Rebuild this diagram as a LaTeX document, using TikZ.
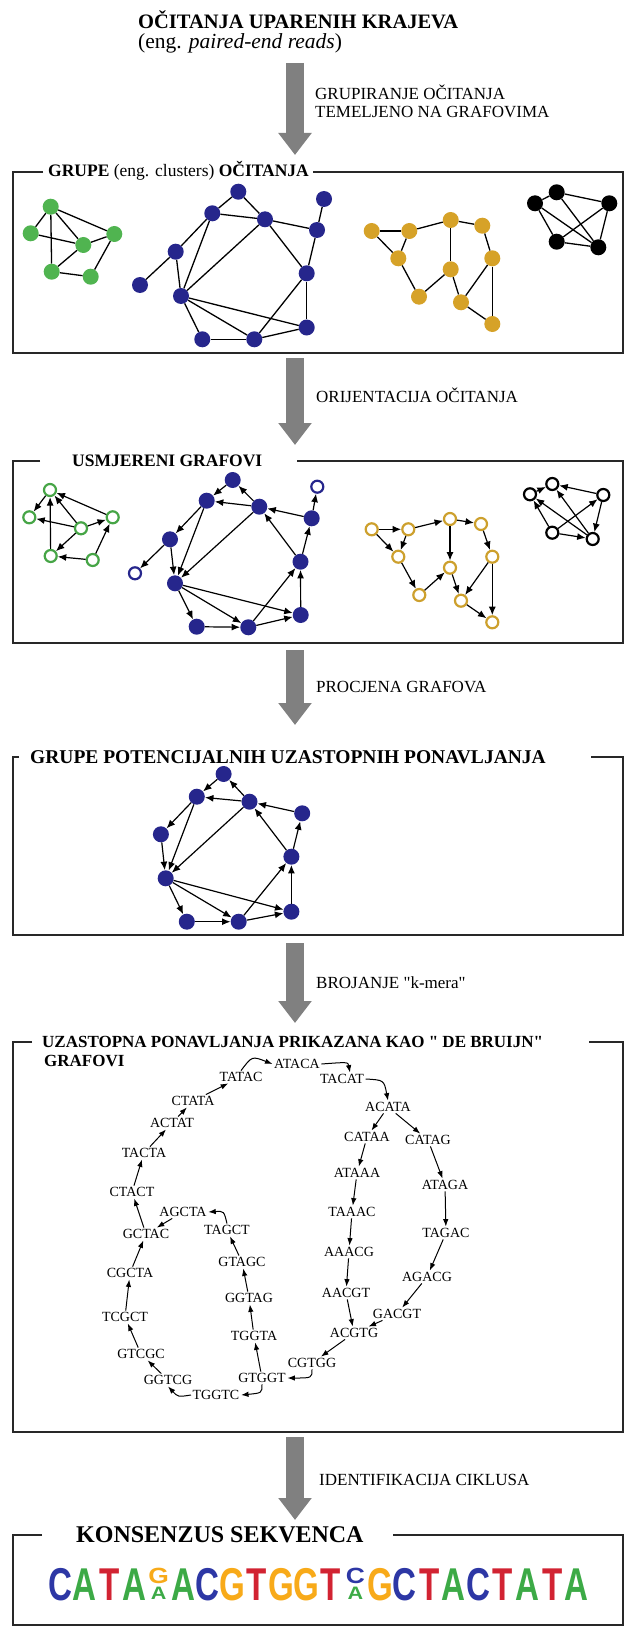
\documentclass[tikz,border=0pt]{standalone}
\usepackage{fontspec}
\setmainfont{Liberation Serif}[Ligatures=TeXOff]
\newfontfamily\logofont{Liberation Sans}[FakeStretch=0.72]
\newfontfamily\logosmall{Liberation Sans}[FakeStretch=1.2]
\usetikzlibrary{arrows.meta}
\definecolor{nodegreen}{RGB}{80,180,80}
\definecolor{ringgreen}{RGB}{70,165,70}
\definecolor{nodeblue}{RGB}{38,38,140}
\definecolor{nodegold}{RGB}{214,162,40}
\definecolor{ringgold}{RGB}{205,160,45}
\definecolor{arrowgray}{RGB}{128,128,128}
\definecolor{framegray}{RGB}{40,40,40}
\definecolor{lA}{RGB}{60,170,70}
\definecolor{lC}{RGB}{45,55,165}
\definecolor{lG}{RGB}{248,170,25}
\definecolor{lT}{RGB}{210,35,50}
\newcommand\stackcol[3]{{\logosmall\bfseries\vbox{\offinterlineskip
  \hbox to 22pt{\hss\fontsize{22}{22}\selectfont\textcolor{#1}{#2}\hss}\vskip 4pt
  \hbox to 22pt{\hss\fontsize{18}{18}\selectfont\textcolor{lA}{#3}\hss}}}}
\begin{document}
\begin{tikzpicture}[x=1pt,y=-1pt,
  fG/.style={circle,fill=nodegreen,minimum size=16pt,inner sep=0pt},
  fB/.style={circle,fill=nodeblue,minimum size=16pt,inner sep=0pt},
  fO/.style={circle,fill=nodegold,minimum size=16pt,inner sep=0pt},
  fK/.style={circle,fill=black,minimum size=16pt,inner sep=0pt},
  hG/.style={circle,draw=ringgreen,line width=2.2pt,fill=white,minimum size=12pt,inner sep=0pt},
  hB/.style={circle,draw=nodeblue,line width=2.2pt,fill=white,minimum size=12pt,inner sep=0pt},
  hO/.style={circle,draw=ringgold,line width=2.2pt,fill=white,minimum size=12pt,inner sep=0pt},
  hK/.style={circle,draw=black,line width=2.2pt,fill=white,minimum size=12pt,inner sep=0pt},
  ue/.style={line width=1.3pt},
  de/.style={line width=1.2pt,-{Latex[length=8.5pt,width=7pt]}},
  dbn/.style={font=\fontsize{14}{14}\selectfont,inner sep=1.5pt},
  dba/.style={line width=1pt,-{Latex[length=7.5pt,width=5.5pt]}},
  boxframe/.style={line width=1.6pt,draw=framegray},
  bigarrow/.style={line width=18pt,draw=arrowgray,-{Triangle[length=22pt,width=32pt]}},
  ttl/.style={anchor=base west,inner sep=0pt},
  lbl/.style={anchor=base west,inner sep=0pt,font=\fontsize{17}{18}\selectfont},
  bigletter/.style={anchor=base,inner sep=0pt,font=\logofont\bfseries\fontsize{46}{46}\selectfont},
  stackletter/.style={anchor=south,inner sep=0pt}
]
\fill[white] (0,0) rectangle (626,1629);
\useasboundingbox (0,0) rectangle (626,1629);

% ---------- top ----------
\node[ttl,font=\bfseries\fontsize{20.5}{24}\selectfont] (title) at (138,29) {OČITANJA UPARENIH KRAJEVA};
\node[ttl,font=\fontsize{21.5}{22}\selectfont] (subtitle) at (138,49) {(eng. \textit{paired-end reads})};

% ---------- big arrows ----------
\coordinate (a1s) at (295,63);   \coordinate (a1e) at (295,155);
\coordinate (a2s) at (295,358);  \coordinate (a2e) at (295,445);
\coordinate (a3s) at (295,650);  \coordinate (a3e) at (295,725);
\coordinate (a4s) at (295,943);  \coordinate (a4e) at (295,1023);
\coordinate (a5s) at (295,1437); \coordinate (a5e) at (295,1520);
\draw[bigarrow] (a1s) -- (a1e);
\draw[bigarrow] (a2s) -- (a2e);
\draw[bigarrow] (a3s) -- (a3e);
\draw[bigarrow] (a4s) -- (a4e);
\draw[bigarrow] (a5s) -- (a5e);

\node[lbl] (l1a) at (315,100) {GRUPIRANJE OČITANJA};
\node[lbl] (l1b) at (315,118) {TEMELJENO NA GRAFOVIMA};
\node[lbl] (l2) at (316,402) {ORIJENTACIJA OČITANJA};
\node[lbl] (l3) at (316,692) {PROCJENA GRAFOVA};
\node[lbl] (l4) at (316,988) {BROJANJE "k-mera"};
\node[lbl] (l5) at (319,1485) {IDENTIFIKACIJA CIKLUSA};

% ---------- box 1 ----------
\draw[boxframe] (43,172) -- (13,172) -- (13,353) -- (623,353) -- (623,172) -- (313,172);
\node[ttl,font=\fontsize{17.5}{18}\selectfont] (t1) at (48,177) {\textbf{GRUPE} (eng. clusters) \textbf{OČITANJA}};

\node[fG] (G1) at (50.7,206.7) {};
\node[fG] (G2) at (30.7,233.3) {};
\node[fG] (G3) at (83.3,245) {};
\node[fG] (G4) at (114.3,234) {};
\node[fG] (G5) at (51.7,271.7) {};
\node[fG] (G6) at (90.7,276.7) {};
\foreach \a/\b in {G1/G2,G1/G5,G1/G3,G1/G4,G2/G3,G3/G4,G3/G5,G5/G6,G6/G4}
  \draw[ue] (\a) -- (\b);

\node[fB] (B1) at (238.3,191.7) {};
\node[fB] (B2) at (212.3,213.3) {};
\node[fB] (B3) at (265,219.3) {};
\node[fB] (B4) at (317,230) {};
\node[fB] (B5) at (324,199) {};
\node[fB] (B6) at (175.7,251.7) {};
\node[fB] (B7) at (140,285) {};
\node[fB] (B8) at (181,296) {};
\node[fB] (B9) at (306.7,273.3) {};
\node[fB] (B10) at (202.3,339.3) {};
\node[fB] (B11) at (254.3,339.3) {};
\node[fB] (B12) at (306.7,327.5) {};
\foreach \a/\b in {B1/B2,B1/B3,B2/B3,B3/B4,B4/B5,B2/B6,B2/B8,B3/B8,B6/B7,B6/B8,B8/B10,B8/B11,B8/B12,B10/B11,B11/B9,B11/B12,B12/B9,B9/B3,B9/B4}
  \draw[ue] (\a) -- (\b);

\node[fO] (O1) at (371.7,231) {};
\node[fO] (O2) at (409.3,231) {};
\node[fO] (O3) at (398.3,258.3) {};
\node[fO] (O4) at (450.7,220) {};
\node[fO] (O5) at (482.3,225.7) {};
\node[fO] (O6) at (450.7,269.3) {};
\node[fO] (O7) at (419,296.7) {};
\node[fO] (O8) at (492.3,258.3) {};
\node[fO] (O9) at (461,302.3) {};
\node[fO] (O10) at (492.3,324) {};
\foreach \a/\b in {O1/O2,O1/O3,O2/O3,O2/O4,O4/O5,O4/O6,O5/O8,O3/O7,O7/O6,O6/O9,O9/O8,O8/O10,O9/O10}
  \draw[ue] (\a) -- (\b);

\node[fK] (K1) at (556.7,192.3) {};
\node[fK] (K2) at (535,203.3) {};
\node[fK] (K3) at (609.3,203.3) {};
\node[fK] (K4) at (556.7,241.7) {};
\node[fK] (K5) at (598.3,247.3) {};
\foreach \a/\b in {K1/K2,K1/K3,K1/K5,K2/K4,K2/K5,K3/K4,K3/K5,K4/K5}
  \draw[ue] (\a) -- (\b);

% ---------- box 2 ----------
\draw[boxframe] (40,461) -- (13,461) -- (13,643) -- (623,643) -- (623,461) -- (297,461);
\node[ttl,font=\bfseries\fontsize{17.5}{18}\selectfont] (t2) at (72,466) {USMJERENI GRAFOVI};

\node[hG] (g1) at (50,490) {};
\node[hG] (g2) at (29.3,517.3) {};
\node[hG] (g3) at (81,528.3) {};
\node[hG] (g4) at (112.7,517.3) {};
\node[hG] (g5) at (50.7,556) {};
\node[hG] (g6) at (92.7,560) {};
\foreach \a/\b in {g1/g2,g5/g1,g3/g1,g4/g1,g3/g2,g3/g5,g3/g4,g6/g5,g6/g4}
  \draw[de] (\a) -- (\b);

\node[fB] (b1) at (232.7,480) {};
\node[fB] (b2) at (206.7,500.7) {};
\node[fB] (b3) at (259.3,506.7) {};
\node[fB] (b4) at (311.7,518.3) {};
\node[hB] (b5) at (317.3,486.7) {};
\node[fB] (b6) at (170,539.3) {};
\node[hB] (b7) at (135,573.3) {};
\node[fB] (b8) at (175,583.3) {};
\node[fB] (b9) at (300.5,561.7) {};
\node[fB] (b10) at (196.7,626.7) {};
\node[fB] (b11) at (248.3,627.3) {};
\node[fB] (b12) at (300.7,615) {};
\foreach \a/\b in {b1/b2,b3/b1,b3/b2,b4/b3,b2/b6,b2/b8,b3/b8,b6/b8,b6/b7,b8/b10,b8/b11,b8/b12,b10/b11,b11/b9,b11/b12,b12/b9,b9/b3,b9/b4,b4/b5}
  \draw[de] (\a) -- (\b);

\node[hO] (o1) at (371.7,529.3) {};
\node[hO] (o2) at (408.3,529.3) {};
\node[hO] (o3) at (398.3,556.7) {};
\node[hO] (o4) at (450,519) {};
\node[hO] (o5) at (481,524) {};
\node[hO] (o6) at (450,567.7) {};
\node[hO] (o7) at (419.3,595) {};
\node[hO] (o8) at (492.3,556.7) {};
\node[hO] (o9) at (461,600.7) {};
\node[hO] (o10) at (492.3,622.3) {};
\foreach \a/\b in {o1/o2,o1/o3,o2/o3,o2/o4,o4/o5,o4/o6,o5/o8,o3/o7,o7/o6,o6/o9,o8/o9,o8/o10,o9/o10}
  \draw[de] (\a) -- (\b);

\node[hK] (k1) at (552.3,484) {};
\node[hK] (k2) at (530,494.3) {};
\node[hK] (k3) at (603.3,495) {};
\node[hK] (k4) at (552.3,532.7) {};
\node[hK] (k5) at (592.7,539) {};
\foreach \a/\b in {k2/k1,k3/k1,k5/k1,k4/k2,k5/k2,k4/k3,k3/k5,k4/k5}
  \draw[de] (\a) -- (\b);

% ---------- box 3 ----------
\draw[boxframe] (19,757) -- (13,757) -- (13,935) -- (623,935) -- (623,757) -- (591,757);
\node[ttl,font=\bfseries\fontsize{19.5}{22}\selectfont] (t3) at (30,763) {GRUPE POTENCIJALNIH UZASTOPNIH PONAVLJANJA};

\node[fB] (n1) at (223.6,774) {};
\node[fB] (n2) at (196.8,796.7) {};
\node[fB] (n3) at (249.5,801.7) {};
\node[fB] (n4) at (302.2,813.3) {};
\node[fB] (n6) at (160.9,834.3) {};
\node[fB] (n8) at (165.7,878.3) {};
\node[fB] (n9) at (291.4,856.7) {};
\node[fB] (n10) at (186.8,921.7) {};
\node[fB] (n11) at (238.7,921.7) {};
\node[fB] (n12) at (291.4,911.7) {};
\foreach \a/\b in {n1/n2,n3/n1,n3/n2,n4/n3,n2/n6,n2/n8,n3/n8,n6/n8,n8/n10,n8/n11,n8/n12,n10/n11,n11/n9,n11/n12,n12/n9,n9/n3,n9/n4}
  \draw[de] (\a) -- (\b);

% ---------- box 4 ----------
\draw[boxframe] (32,1042) -- (13,1042) -- (13,1432) -- (623,1432) -- (623,1042) -- (589,1042);
\node[ttl,font=\bfseries\fontsize{17}{18}\selectfont] (t4a) at (42,1047) {UZASTOPNA PONAVLJANJA PRIKAZANA KAO " DE BRUIJN"};
\node[ttl,font=\bfseries\fontsize{17}{18}\selectfont] (t4b) at (44,1066) {GRAFOVI};

\node[dbn] (ATACA) at (297,1064) {ATACA};
\node[dbn] (TATAC) at (241,1077) {TATAC};
\node[dbn] (CTATA) at (193,1101) {CTATA};
\node[dbn] (ACTAT) at (172,1123) {ACTAT};
\node[dbn] (TACTA) at (144,1153) {TACTA};
\node[dbn] (CTACT) at (132,1192) {CTACT};
\node[dbn] (GCTAC) at (146,1234) {GCTAC};
\node[dbn] (CGCTA) at (130,1273) {CGCTA};
\node[dbn] (TCGCT) at (125,1317) {TCGCT};
\node[dbn] (GTCGC) at (141,1354) {GTCGC};
\node[dbn] (GGTCG) at (168,1380) {GGTCG};
\node[dbn] (TGGTC) at (216,1395) {TGGTC};
\node[dbn] (GTGGT) at (262,1378) {GTGGT};
\node[dbn] (CGTGG) at (312,1363) {CGTGG};
\node[dbn] (ACGTG) at (354,1333) {ACGTG};
\node[dbn] (GACGT) at (397,1314) {GACGT};
\node[dbn] (AGACG) at (427,1277) {AGACG};
\node[dbn] (TAGAC) at (446,1233) {TAGAC};
\node[dbn] (ATAGA) at (445,1185) {ATAGA};
\node[dbn] (CATAG) at (428,1140) {CATAG};
\node[dbn] (ACATA) at (388,1107) {ACATA};
\node[dbn] (TACAT) at (342,1079) {TACAT};
\node[dbn] (CATAA) at (367,1137) {CATAA};
\node[dbn] (ATAAA) at (357,1173) {ATAAA};
\node[dbn] (TAAAC) at (352,1212) {TAAAC};
\node[dbn] (AAACG) at (349,1252) {AAACG};
\node[dbn] (AACGT) at (346,1293) {AACGT};
\node[dbn] (TGGTA) at (254,1336) {TGGTA};
\node[dbn] (GGTAG) at (249,1298) {GGTAG};
\node[dbn] (GTAGC) at (242,1262) {GTAGC};
\node[dbn] (TAGCT) at (227,1230) {TAGCT};
\node[dbn] (AGCTA) at (183,1212) {AGCTA};

\draw[dba] (TATAC.north) .. controls (252,1056) .. (ATACA.west);
\draw[dba] (ATACA.east) .. controls (348,1062) .. ([xshift=8pt]TACAT.north);
\draw[dba] (TACAT.east) .. controls (384,1080) .. (ACATA.north);
\draw[dba] (CGTGG.south) .. controls (312,1378) .. (GTGGT.east);
\draw[dba] (GTGGT.south) .. controls (262,1393) .. (TGGTC.east);
\draw[dba] (TGGTC.west) .. controls (178,1397) .. (GGTCG.south);
\draw[dba] (TAGCT.north) .. controls (224,1211) .. (AGCTA.east);
\foreach \a/\b in {ACATA/CATAG,CATAG/ATAGA,ATAGA/TAGAC,TAGAC/AGACG,AGACG/GACGT,GACGT/ACGTG,ACGTG/CGTGG,
  GGTCG/GTCGC,GTCGC/TCGCT,TCGCT/CGCTA,CGCTA/GCTAC,GCTAC/CTACT,CTACT/TACTA,TACTA/ACTAT,ACTAT/CTATA,CTATA/TATAC,
  ACATA/CATAA,CATAA/ATAAA,ATAAA/TAAAC,TAAAC/AAACG,AAACG/AACGT,AACGT/ACGTG,
  GTGGT/TGGTA,TGGTA/GGTAG,GGTAG/GTAGC,GTAGC/TAGCT,AGCTA/GCTAC}
  \draw[dba] (\a) -- (\b);

% ---------- box 5 ----------
\draw[boxframe] (42,1535) -- (13,1535) -- (13,1625) -- (623,1625) -- (623,1535) -- (393,1535);
\node[ttl,font=\bfseries\fontsize{24}{26}\selectfont] (t5) at (76,1542) {KONSENZUS SEKVENCA};

\foreach \i/\l/\c in {1/C/lC,2/A/lA,3/T/lT,4/A/lA,6/A/lA,7/C/lC,8/G/lG,9/T/lT,10/G/lG,11/G/lG,12/T/lT,14/G/lG,15/C/lC,16/T/lT,17/A/lA,18/C/lC,19/T/lT,20/A/lA,21/T/lT,22/A/lA}
  \node[bigletter,text=\c] (s\i) at ({48+24.6*(\i-0.5)},1600) {\l};
\node[stackletter] (s5) at ({48+24.6*4.5},1600) {\stackcol{lG}{G}{A}};
\node[stackletter] (s13) at ({48+24.6*12.5},1600) {\stackcol{lC}{C}{A}};
\end{tikzpicture}
\end{document}
